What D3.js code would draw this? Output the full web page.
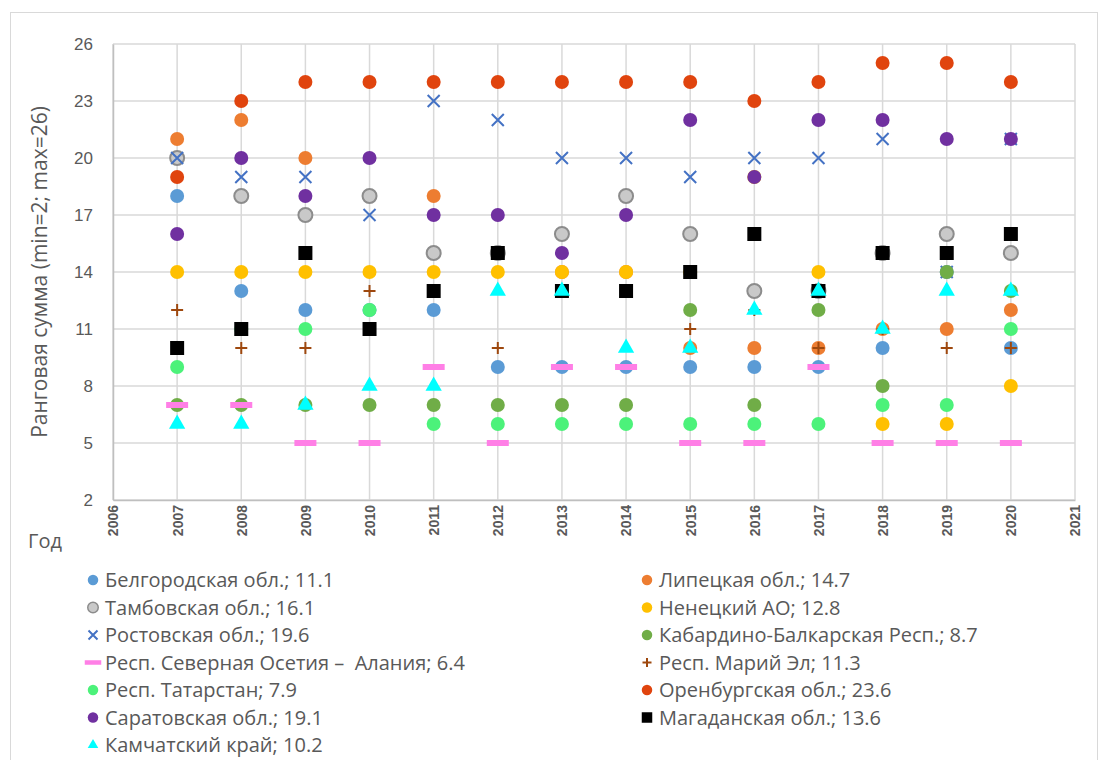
<!DOCTYPE html>
<html>
<head>
<meta charset="utf-8">
<script src="https://cdn.jsdelivr.net/npm/d3@7"></script>
<style>
  body { margin: 0; background: #fff; }
  svg { font-family: "Open Sans", Lato, sans-serif; }
</style>
</head>
<body>
<svg id="chart" width="1108" height="760"></svg>
<script>
// years on the x axis
const years = [2007, 2008, 2009, 2010, 2011, 2012, 2013, 2014, 2015, 2016, 2017, 2018, 2019, 2020];
const yTicks = [2, 5, 8, 11, 14, 17, 20, 23, 26];

// rank sums per region, 2007..2020
const belgorod  = [18, 13, 12, 12, 12, 9, 9, 9, 9, 9, 9, 10, 14, 10];
const lipetsk   = [21, 22, 20, 18, 18, 15, 14, 14, 10, 10, 10, 11, 11, 12];
const tambov    = [20, 18, 17, 18, 15, 15, 16, 18, 16, 13, 13, 15, 16, 15];
const nenets    = [14, 14, 14, 14, 14, 14, 14, 14, 14, 19, 14, 6, 6, 8];
const rostov    = [20, 19, 19, 17, 23, 22, 20, 20, 19, 20, 20, 21, 14, 21];
const kbr       = [7, 7, 7, 7, 7, 7, 7, 7, 12, 7, 12, 8, 14, 13];
const osetia    = [7, 7, 5, 5, 9, 5, 9, 9, 5, 5, 9, 5, 5, 5];
const mariEl    = [12, 10, 10, 13, 13, 10, 13, 13, 11, 12, 10, 11, 10, 10];
const tatarstan = [9, 11, 11, 12, 6, 6, 6, 6, 6, 6, 6, 7, 7, 11];
const orenburg  = [19, 23, 24, 24, 24, 24, 24, 24, 24, 23, 24, 25, 25, 24];
const saratov   = [16, 20, 18, 20, 17, 17, 15, 17, 22, 19, 22, 22, 21, 21];
const magadan   = [10, 11, 15, 11, 13, 15, 13, 13, 14, 16, 13, 15, 15, 16];
const kamchatka = [6, 6, 7, 8, 8, 13, 13, 10, 10, 12, 13, 11, 13, 13];

// legend labels in series order
const labels = [
  "Белгородская обл.; 11.1", "Липецкая обл.; 14.7",
  "Тамбовская обл.; 16.1", "Ненецкий АО; 12.8",
  "Ростовская обл.; 19.6", "Кабардино-Балкарская Респ.; 8.7",
  "Респ. Северная Осетия –  Алания; 6.4", "Респ. Марий Эл; 11.3",
  "Респ. Татарстан; 7.9", "Оренбургская обл.; 23.6",
  "Саратовская обл.; 19.1", "Магаданская обл.; 13.6",
  "Камчатский край; 10.2"
];

const series = [
  { values: belgorod,  shape: "circle",   color: "#5B9BD5" },
  { values: lipetsk,   shape: "circle",   color: "#ED7D31" },
  { values: tambov,    shape: "circle",   color: "#C9C9C9", stroke: "#8C8C8C" },
  { values: nenets,    shape: "circle",   color: "#FFC000" },
  { values: rostov,    shape: "x",        color: "#4472C4" },
  { values: kbr,       shape: "circle",   color: "#70AD47" },
  { values: osetia,    shape: "dash",     color: "#FF7FE6" },
  { values: mariEl,    shape: "plus",     color: "#9E480E" },
  { values: tatarstan, shape: "circle",   color: "#4CF27A" },
  { values: orenburg,  shape: "circle",   color: "#E0440E" },
  { values: saratov,   shape: "circle",   color: "#7030A0" },
  { values: magadan,   shape: "square",   color: "#000000" },
  { values: kamchatka, shape: "triangle", color: "#00FFFF" }
].map((s, i) => ({ ...s, name: labels[i] }));

const svg = d3.select("#chart");

// outer chart frame
svg.append("rect")
  .attr("x", 10.5).attr("y", 12.5)
  .attr("width", 1087).attr("height", 760)
  .attr("fill", "none")
  .attr("stroke", "#d9d9d9");

const x = d3.scaleLinear().domain([2006, 2021]).range([113, 1075]);
const y = d3.scaleLinear().domain([2, 26]).range([500, 44]);

// gridlines
svg.append("g")
  .selectAll("line")
  .data(yTicks)
  .join("line")
  .attr("x1", x(2006)).attr("x2", x(2021))
  .attr("y1", d => y(d)).attr("y2", d => y(d))
  .attr("stroke", "#d9d9d9").attr("stroke-width", 1.5);

svg.append("g")
  .selectAll("line")
  .data(d3.range(2006, 2022))
  .join("line")
  .attr("x1", d => x(d)).attr("x2", d => x(d))
  .attr("y1", y(2)).attr("y2", y(26))
  .attr("stroke", "#d9d9d9").attr("stroke-width", 1.5);

// axes
const xAxis = svg.append("g")
  .attr("transform", `translate(0,${y(2)})`)
  .call(d3.axisBottom(x).tickValues(d3.range(2006, 2022)).tickFormat(d3.format("d")).tickSize(0));
xAxis.select(".domain").attr("stroke", "#bfbfbf").attr("stroke-width", 1.5);
xAxis.selectAll("text")
  .attr("transform", "rotate(-90)")
  .attr("text-anchor", "end")
  .attr("x", -5).attr("y", 0).attr("dy", "0.35em")
  .style("font-size", "14px")
  .style("font-weight", "bold")
  .style("fill", "#595959");

const yAxis = svg.append("g")
  .attr("transform", `translate(${x(2006)},0)`)
  .call(d3.axisLeft(y).tickValues(yTicks).tickSize(0).tickPadding(20));
yAxis.select(".domain").attr("stroke", "#bfbfbf").attr("stroke-width", 1.5);
yAxis.selectAll("text")
  .style("font-size", "17px")
  .style("fill", "#595959");

// axis titles
svg.append("text")
  .attr("transform", `translate(47,${(y(2) + y(26)) / 2}) rotate(-90)`)
  .attr("text-anchor", "middle")
  .style("font-size", "21px")
  .style("fill", "#595959")
  .text("Ранговая сумма (min=2; max=26)");

svg.append("text")
  .attr("x", 28).attr("y", 548)
  .style("font-size", "20px")
  .style("fill", "#595959")
  .text("Год");

// marker drawing
function drawMarker(g, shape, color, stroke, scale) {
  const k = scale || 1;
  if (shape === "circle") {
    g.append("circle").attr("r", 7 * k).attr("fill", color)
      .attr("stroke", stroke || "none").attr("stroke-width", stroke ? 2 * k : 0);
  } else if (shape === "square") {
    g.append("rect").attr("x", -7 * k).attr("y", -7 * k)
      .attr("width", 14 * k).attr("height", 14 * k).attr("fill", color);
  } else if (shape === "triangle") {
    g.append("path").attr("d", d3.symbol(d3.symbolTriangle, 115 * k * k)).attr("fill", color);
  } else if (shape === "x") {
    const s = 6 * k;
    g.append("path").attr("d", `M${-s},${-s}L${s},${s}M${-s},${s}L${s},${-s}`)
      .attr("stroke", color).attr("stroke-width", 2).attr("fill", "none");
  } else if (shape === "plus") {
    const s = 6 * k;
    g.append("path").attr("d", `M${-s},0L${s},0M0,${-s}L0,${s}`)
      .attr("stroke", color).attr("stroke-width", 2).attr("fill", "none");
  } else if (shape === "dash") {
    g.append("rect").attr("x", -11 * k).attr("y", -3 * k)
      .attr("width", 22 * k).attr("height", 6 * k).attr("fill", color);
  }
}

// points, in series order so later series sit on top
series.forEach(s => {
  svg.append("g")
    .selectAll("g")
    .data(s.values.map((v, i) => ({ year: years[i], value: v })))
    .join("g")
    .attr("transform", d => `translate(${x(d.year)},${y(d.value)})`)
    .each(function () { drawMarker(d3.select(this), s.shape, s.color, s.stroke); });
});

// legend, two columns
const legend = svg.append("g");
series.forEach((s, i) => {
  const col = i % 2, row = Math.floor(i / 2);
  const g = legend.append("g")
    .attr("transform", `translate(${col === 0 ? 93 : 647},${580 + row * 27.5})`);
  const m = g.append("g");
  drawMarker(m, s.shape, s.color, s.stroke, s.shape === "triangle" ? 0.65 : 0.75);
  g.append("text")
    .attr("x", 12).attr("y", 0).attr("dy", "0.35em")
    .style("font-size", "20px")
    .style("white-space", "pre")
    .style("fill", "#595959")
    .text(s.name);
});
</script>
</body>
</html>
